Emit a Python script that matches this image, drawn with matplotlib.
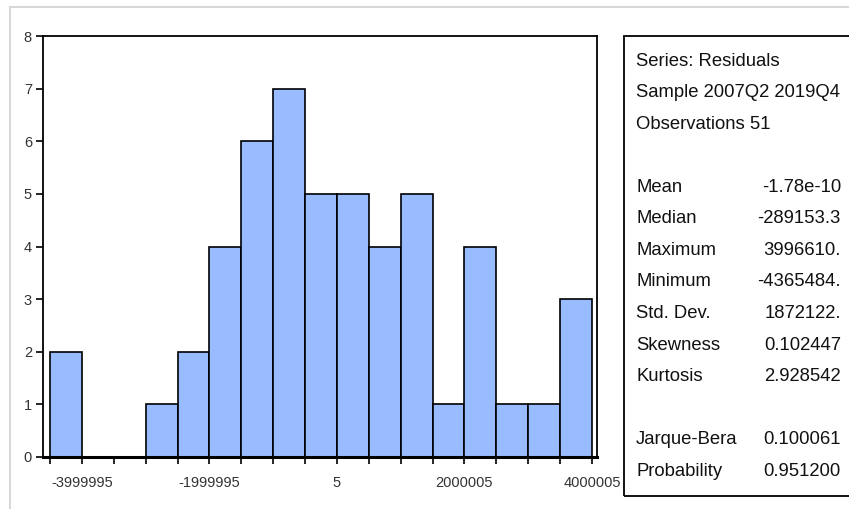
import matplotlib.pyplot as plt
from matplotlib.patches import Rectangle
import numpy as np

# histogram of residuals, bin width 500000
bin_edges = [-4499995 + 500000 * i for i in range(18)]
counts = [2, 0, 0, 1, 2, 4, 6, 7, 5, 5, 4, 5, 1, 4, 1, 1, 3]
tick_vals = [-3999995, -1999995, 5, 2000005, 4000005]
tick_labels = ['-3999995', '-1999995', '5', '2000005', '4000005']

stat_header = ['Series: Residuals', 'Sample 2007Q2 2019Q4', 'Observations 51']
stat_names = ['Mean', 'Median', 'Maximum', 'Minimum', 'Std. Dev.', 'Skewness', 'Kurtosis']
stat_values = ['-1.78e-10', '-289153.3', '3996610.', '-4365484.', '1872122.', '0.102447', '2.928542']
test_names = ['Jarque-Bera', 'Probability']
test_values = ['0.100061', '0.951200']

W, H = 849, 509
plt.rcParams['font.family'] = ['Liberation Sans', 'DejaVu Sans']

fig = plt.figure(figsize=(W / 100, H / 100), dpi=100)
fig.patch.set_facecolor('white')

# outer light frame
fig.add_artist(Rectangle((10 / W, -0.01), 1.0, 1 - 7 / H + 0.01, transform=fig.transFigure,
                         fill=False, edgecolor='#d8d8d8', linewidth=1.5))

ax = fig.add_axes([43 / W, 1 - 457 / H, (597 - 43) / W, (457 - 36) / H])
widths = np.diff(bin_edges)
ax.bar(bin_edges[:-1], counts, width=widths, align='edge', color='#99bbff',
       edgecolor='black', linewidth=1.2)
ax.set_xlim(-4499995 - 7 / 32 * 500000, 4000005 + 5 / 32 * 500000)
ax.set_ylim(0, 8)
ax.set_yticks(range(9))
ax.set_xticks(tick_vals)
ax.set_xticklabels(tick_labels)
ax.set_xticks(bin_edges, minor=True)
ax.tick_params(axis='both', which='both', direction='out', length=5, width=1.2,
               labelsize=10.5, colors='black', labelcolor='#333333')
ax.tick_params(axis='y', pad=3)
ax.tick_params(axis='x', pad=9)
for s in ax.spines.values():
    s.set_linewidth(1.3)
ax.spines['bottom'].set_linewidth(2.2)

# stats box
fig.add_artist(Rectangle((624 / W, 1 - 496 / H), 1.0, (496 - 36) / H, transform=fig.transFigure,
                         fill=False, edgecolor='black', linewidth=1.3))

txt = dict(fontsize=13.3, va='center', color='#111111')
lx, rx = 636 / W, 841 / W
for i, t in enumerate(stat_header):
    fig.text(lx, 1 - (61 + 31.6 * i) / H, t, ha='left', **txt)
for i, (n, v) in enumerate(zip(stat_names, stat_values)):
    y = 1 - (187 + 31.6 * i) / H
    fig.text(lx, y, n, ha='left', **txt)
    fig.text(rx, y, v, ha='right', **txt)
for i, (n, v) in enumerate(zip(test_names, test_values)):
    y = 1 - (440 + 31.0 * i) / H
    fig.text(lx, y, n, ha='left', **txt)
    fig.text(rx, y, v, ha='right', **txt)

fig.savefig('out.png', dpi=100)
